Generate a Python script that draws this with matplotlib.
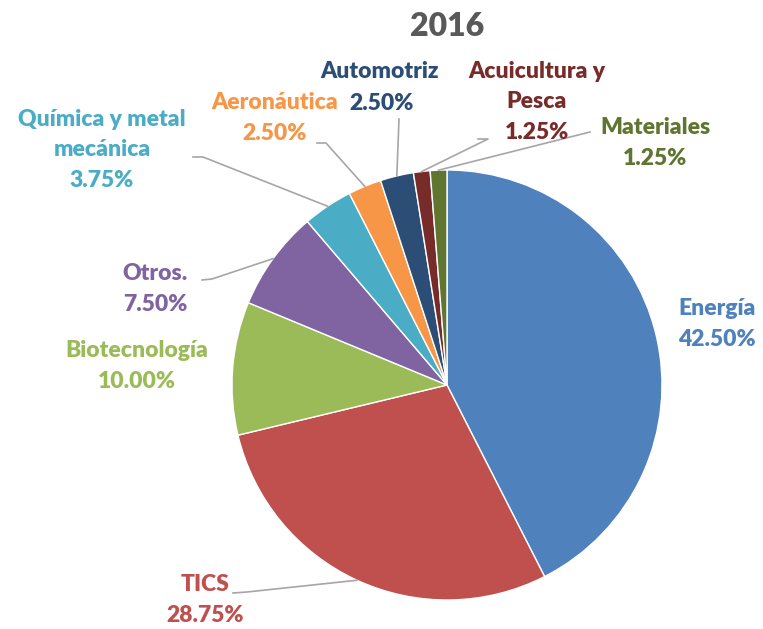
import matplotlib.pyplot as plt
import numpy as np

plt.rcParams['font.family'] = ['Lato', 'DejaVu Sans']

title = "2016"
sectors = ["Energía", "TICS", "Biotecnología", "Otros.", "Química y metal\nmecánica",
           "Aeronáutica", "Automotriz", "Acuicultura y\nPesca", "Materiales"]
shares = [42.50, 28.75, 10.00, 7.50, 3.75, 2.50, 2.50, 1.25, 1.25]
colors = ["#4F81BD", "#C0504D", "#9BBB59", "#8064A2", "#4BACC6",
          "#F79646", "#2C4D75", "#772C2A", "#5F7530"]

W, H = 763, 629
cx, cy, R = 447, 385, 215
FS = 16.5

# label text centre (pixels), leader line start points (pixels), None = no leader
text_pos = [(717, 324), (205, 600), (137, 366), (155, 289), (102, 150),
            (275, 118), (None, None), (537, 102), (655, 143)]
leaders = [None, [(233, 593), (247, 592)], None, [(202, 280), (212, 279)],
           [(193, 157), (203, 157)], [(317, 143), (326, 143)],
           [(399, 119)], [(478, 139), (488, 139)], [(590, 132)]]


def py(y):
    return H - y


fig = plt.figure(figsize=(W / 100, H / 100), dpi=100)
ax = fig.add_axes([0, 0, 1, 1])

ax.pie(shares, colors=colors, startangle=90, counterclock=False,
       center=(cx, py(cy)), radius=R, frame=True,
       wedgeprops=dict(edgecolor="white", linewidth=1))
ax.set_xlim(0, W)
ax.set_ylim(0, H)
ax.set_aspect("equal")
ax.axis("off")

ax.text(447, py(27), title, ha="center", va="center", fontsize=23,
        fontweight="heavy", color="#595959")

cum = np.cumsum([0] + shares)
for i, name in enumerate(sectors):
    mid = 90 - 3.6 * (cum[i] + cum[i + 1]) / 2
    ax_x = cx + R * np.cos(np.radians(mid))
    ax_y = cy - R * np.sin(np.radians(mid))
    if leaders[i] is not None:
        pts = leaders[i] + [(ax_x, ax_y)]
        ax.plot([p[0] for p in pts], [py(p[1]) for p in pts],
                color="#A6A6A6", lw=1.2)
    pct = f"{shares[i]:.2f}%"
    tx, ty = text_pos[i]
    if name == "Automotriz":
        ax.text(380, py(71), name, ha="center", va="center", fontsize=FS,
                fontweight="heavy", color=colors[i])
        ax.text(382, py(103), pct, ha="center", va="center", fontsize=FS,
                fontweight="heavy", color=colors[i])
        continue
    ax.text(tx, py(ty), name + "\n" + pct, ha="center", va="center",
            fontsize=FS, fontweight="heavy", color=colors[i], linespacing=1.55)

fig.savefig("out.png", dpi=100)
